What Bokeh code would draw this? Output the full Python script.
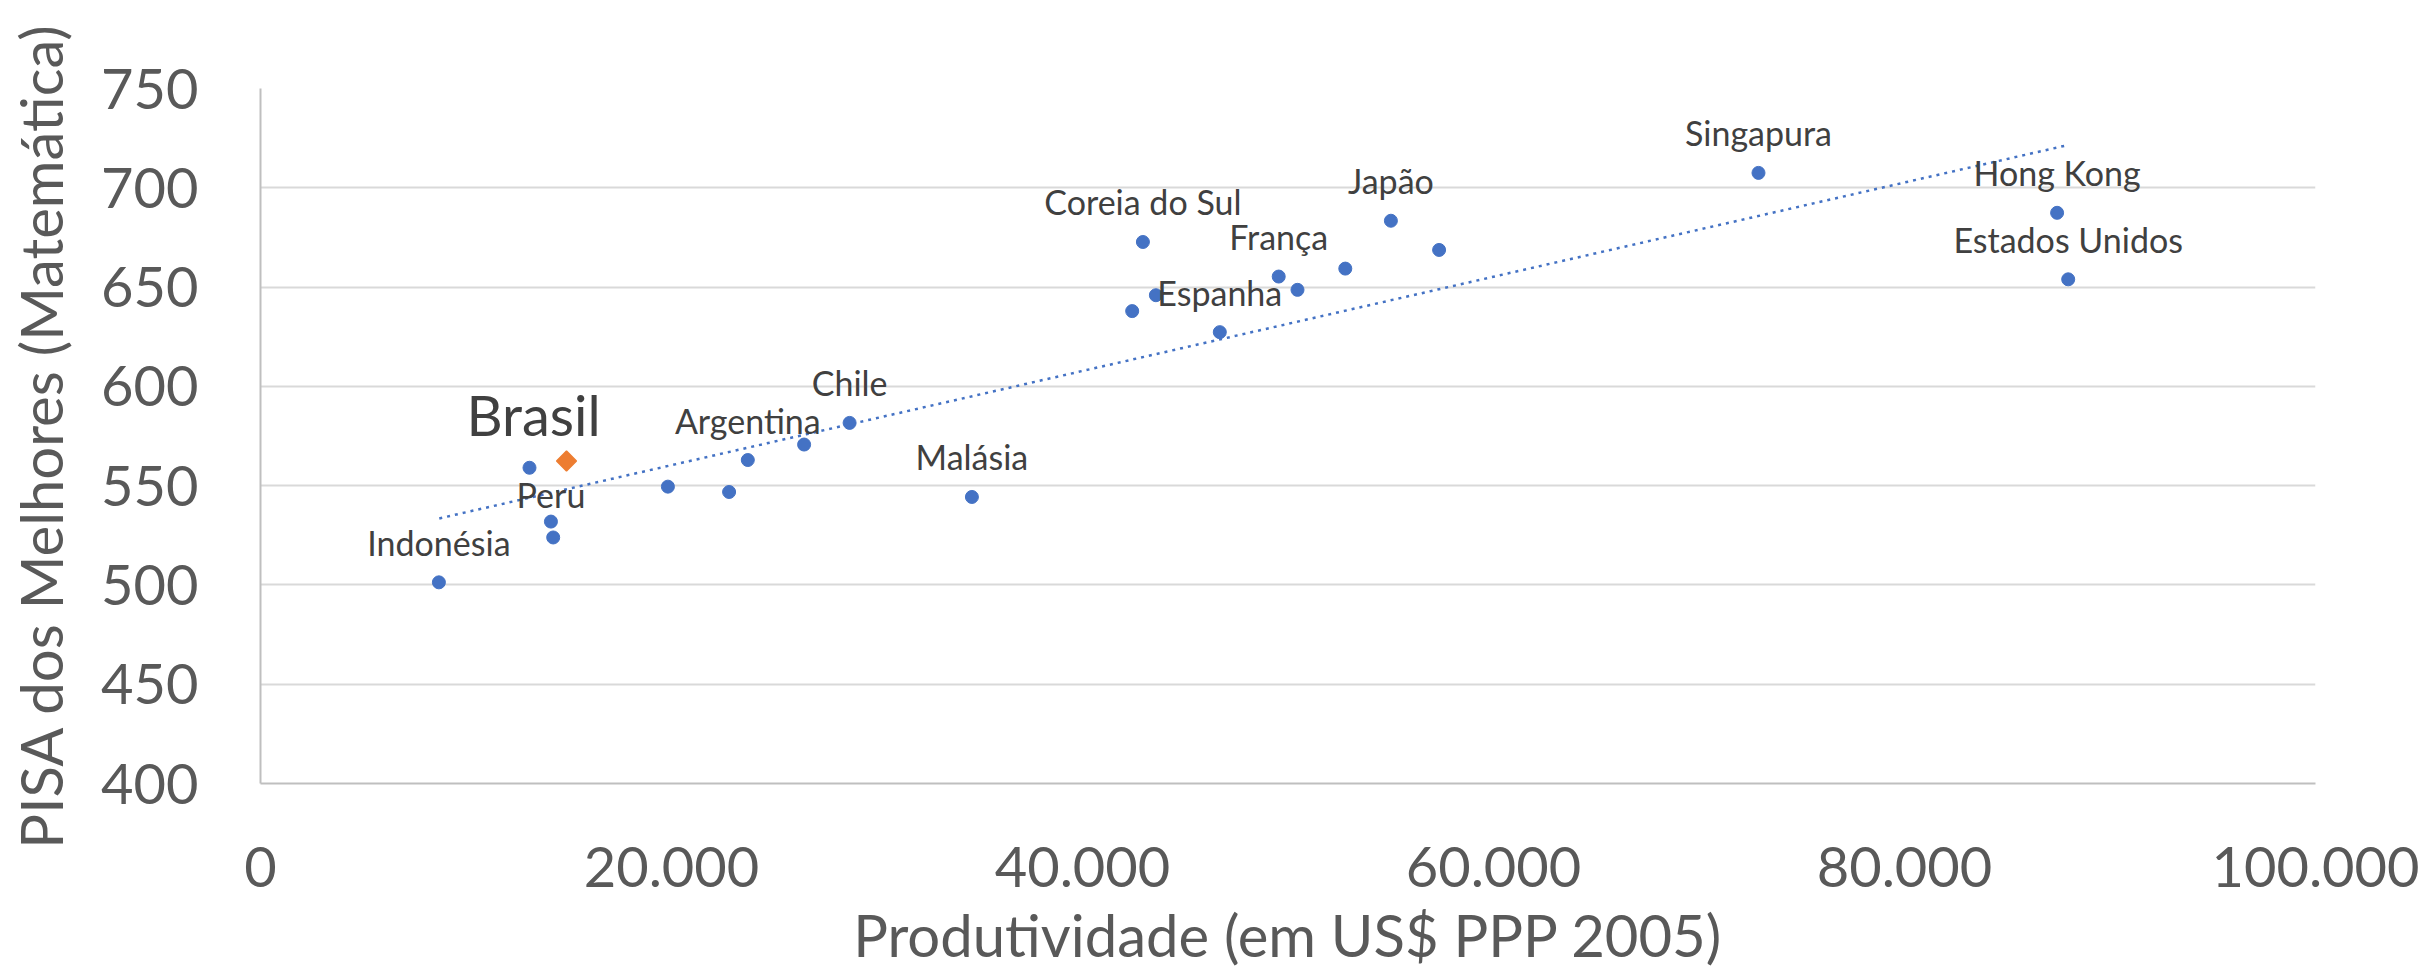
from bokeh.plotting import figure
from bokeh.models import Range1d, FixedTicker, ColumnDataSource
from bokeh.core.properties import value
from bokeh.embed import file_html
from bokeh.resources import INLINE

# ---- data ----
prod = [8681, 13090, 14133, 14243, 19825, 22803, 23713, 26453, 28667, 34618,
        42418, 42939, 43572, 46681, 49548, 50462, 52788, 55007, 57353, 72895,
        87426, 87966]
pisa = [501.3, 559.0, 531.9, 523.9, 549.5, 546.8, 562.9, 570.7, 581.6, 544.3,
        637.9, 672.7, 645.9, 627.3, 655.3, 648.6, 659.3, 683.4, 668.7, 707.5,
        687.4, 653.9]
names = ["Indonésia", "", "Peru", "", "", "", "Argentina", "", "Chile", "Malásia",
         "", "Coreia do Sul", "", "Espanha", "França", "", "", "Japão", "", "Singapura",
         "Hong Kong", "Estados Unidos"]

brasil_x = [14891]
brasil_y = [562.4]
brasil_name = ["Brasil"]

trend_x = [8700, 87900]
trend_y = [533.5, 721.4]

y_ticks = [400, 450, 500, 550, 600, 650, 700, 750]
x_ticks = [0, 20000, 40000, 60000, 80000, 100000]
x_tick_labels = ["0", "20.000", "40.000", "60.000", "80.000", "100.000"]

FONT = "Lato"
BLUE = "#4472C4"
ORANGE = "#ED7D31"

# label placement (layout only): default pixel offset above the point,
# with a smaller offset for the label squeezed near the trend line
DEFAULT_DY = -40
SPECIAL_DY = {"Peru": -27}

p = figure(width=2428, height=971, output_backend="svg", toolbar_location=None,
           x_range=Range1d(0, 100000), y_range=Range1d(400, 750),
           min_border_left=260, min_border_right=113, min_border_top=88,
           min_border_bottom=186)
p.outline_line_color = None
p.background_fill_color = "white"
p.border_fill_color = "white"

p.xgrid.visible = False
p.ygrid.grid_line_color = "#D9D9D9"
p.ygrid.grid_line_width = 2

p.yaxis.ticker = FixedTicker(ticks=y_ticks)
p.xaxis.ticker = FixedTicker(ticks=x_ticks)
p.xaxis.major_label_overrides = {t: l for t, l in zip(x_ticks, x_tick_labels)}

for ax in (p.xaxis, p.yaxis):
    ax.axis_line_color = "#BFBFBF"
    ax.axis_line_width = 2
    ax.major_tick_line_color = None
    ax.minor_tick_line_color = None
    ax.major_tick_out = 0
    ax.major_tick_in = 0
    ax.major_label_text_font = FONT
    ax.major_label_text_font_size = "56px"
    ax.major_label_text_color = "#595959"
    ax.axis_label_text_font = FONT
    ax.axis_label_text_font_size = "58px"
    ax.axis_label_text_color = "#595959"
    ax.axis_label_text_font_style = "normal"

p.xaxis.axis_label = "Produtividade (em US$ PPP 2005)"
p.yaxis.axis_label = "PISA dos Melhores (Matemática)"
p.xaxis.major_label_standoff = 63
p.xaxis.axis_label_standoff = 10
p.yaxis.major_label_standoff = 62
p.yaxis.axis_label_standoff = 23

src = ColumnDataSource(dict(x=prod, y=pisa))
p.line(trend_x, trend_y, line_color=BLUE, line_width=2.5, line_dash="3 5")
p.scatter("x", "y", source=src, size=13, marker="circle", fill_color=BLUE, line_color=BLUE)

bsrc = ColumnDataSource(dict(x=brasil_x, y=brasil_y, name=brasil_name))
p.scatter("x", "y", source=bsrc, size=14, marker="square", angle=0.785398,
          fill_color=ORANGE, line_color=ORANGE, line_width=1.5)

# data labels, grouped by their offset
groups = {}
for xv, yv, nm in zip(prod, pisa, names):
    if nm:
        dy = SPECIAL_DY.get(nm, DEFAULT_DY)
        g = groups.setdefault(dy, dict(x=[], y=[], name=[]))
        g["x"].append(xv); g["y"].append(yv); g["name"].append(nm)
for dy, g in groups.items():
    p.text("x", "y", text="name", source=ColumnDataSource(g), y_offset=dy,
           text_align="center", text_baseline="alphabetic", text_font=value(FONT),
           text_font_size="34px", text_color="#404040")

p.text("x", "y", text="name", source=bsrc, x_offset=-33, y_offset=-47,
       text_align="center", text_baseline="alphabetic", text_font=value(FONT),
       text_font_size="56px", text_color="#404040")

open("out.html", "w").write(file_html(p, INLINE))
